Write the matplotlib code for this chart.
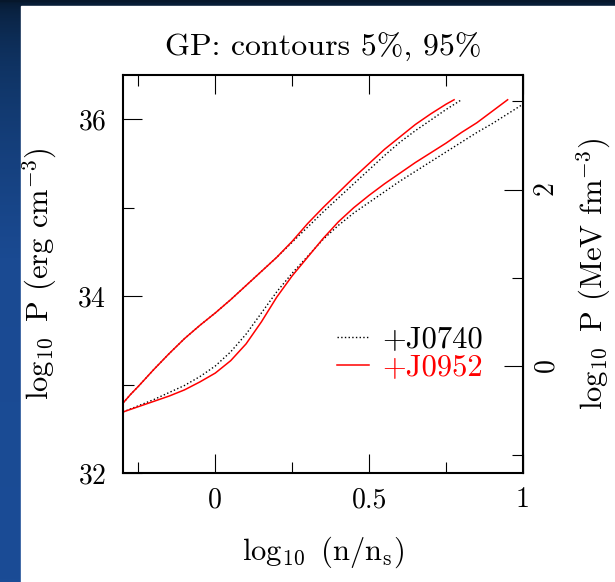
import numpy as np
import matplotlib
matplotlib.use('Agg')
import matplotlib.pyplot as plt
from matplotlib.colors import LinearSegmentedColormap

plt.rcParams['font.family'] = 'cmr10'
plt.rcParams['mathtext.fontset'] = 'cm'
plt.rcParams['axes.formatter.use_mathtext'] = True

# conversion erg cm^-3 -> MeV fm^-3 (log10 of 1.602e33)
LOG_MEV_FM3 = 33.2047

# J0740 contour (black dotted), lower and upper edges
j0740_lo_x = [-0.30, -0.25, -0.20, -0.15, -0.10, -0.05, 0.00, 0.05, 0.10, 0.15, 0.20, 0.25, 0.30,
              0.35, 0.40, 0.45, 0.50, 0.55, 0.60, 0.65, 0.70, 0.75, 0.80, 0.85, 0.90, 0.95, 1.00]
j0740_lo_y = [32.69, 32.76, 32.83, 32.91, 32.99, 33.09, 33.21, 33.37, 33.57, 33.81, 34.05, 34.26, 34.45,
              34.64, 34.80, 34.94, 35.06, 35.18, 35.30, 35.41, 35.52, 35.63, 35.74, 35.85, 35.95, 36.06, 36.17]
j0740_hi_x = [-0.30, -0.275, -0.25, -0.20, -0.15, -0.10, -0.05, 0.00, 0.05, 0.10, 0.15, 0.20, 0.25,
              0.30, 0.35, 0.40, 0.45, 0.50, 0.55, 0.60, 0.65, 0.70, 0.75, 0.80]
j0740_hi_y = [32.79, 32.89, 32.98, 33.17, 33.35, 33.52, 33.67, 33.81, 33.96, 34.12, 34.28, 34.44, 34.61,
              34.78, 34.95, 35.11, 35.27, 35.43, 35.59, 35.74, 35.87, 35.99, 36.11, 36.22]

# J0952 contour (red solid)
j0952_lo_x = [-0.30, -0.25, -0.20, -0.15, -0.10, -0.05, 0.00, 0.05, 0.10, 0.15, 0.20, 0.25, 0.30,
              0.35, 0.40, 0.45, 0.50, 0.55, 0.60, 0.65, 0.70, 0.75, 0.80, 0.85, 0.90, 0.95]
j0952_lo_y = [32.69, 32.75, 32.81, 32.87, 32.94, 33.03, 33.13, 33.27, 33.46, 33.71, 33.99, 34.23, 34.44,
              34.65, 34.84, 35.00, 35.14, 35.27, 35.39, 35.51, 35.62, 35.73, 35.85, 35.96, 36.09, 36.22]
j0952_hi_x = [-0.30, -0.275, -0.25, -0.20, -0.15, -0.10, -0.05, 0.00, 0.05, 0.10, 0.15, 0.20, 0.25,
              0.30, 0.35, 0.40, 0.45, 0.50, 0.55, 0.60, 0.65, 0.70, 0.75, 0.776]
j0952_hi_y = [32.79, 32.89, 32.98, 33.17, 33.35, 33.52, 33.67, 33.81, 33.96, 34.12, 34.28, 34.44, 34.62,
              34.82, 35.00, 35.17, 35.34, 35.50, 35.66, 35.80, 35.94, 36.06, 36.17, 36.22]

W, H = 615, 582
fig = plt.figure(figsize=(W/100, H/100), dpi=100)

# slide background: blue gradient with white panel
bg = fig.add_axes([0, 0, 1, 1], zorder=-10)
cmap = LinearSegmentedColormap.from_list('slide', ['#06172b', '#0f3363', '#1a4a92', '#1b4c96'])
grad = np.linspace(0, 1, 256).reshape(-1, 1) ** 0.5
bg.imshow(grad, aspect='auto', cmap=cmap, extent=[0, 1, 1, 0])
bg.add_patch(plt.Rectangle((21/W, 6/H), 1, 1, color='white'))
bg.set_xlim(0, 1)
bg.set_ylim(1, 0)
bg.axis('off')

ax = fig.add_axes([123/W, 1 - 473/H, 400/W, 398/H])
ax.plot(j0740_lo_x, j0740_lo_y, color='black', ls=':', lw=1.0, label='+J0740')
ax.plot(j0740_hi_x, j0740_hi_y, color='black', ls=':', lw=1.0)
ax.plot(j0952_lo_x, j0952_lo_y, color='red', lw=1.1, label='+J0952')
ax.plot(j0952_hi_x, j0952_hi_y, color='red', lw=1.1)

ax.set_xlim(-0.3, 1.0)
ax.set_ylim(32, 36.5)
ax.set_xticks([0, 0.5, 1])
ax.set_xticklabels(['0', '0.5', '1'])
ax.set_xticks(np.arange(-0.25, 1.0, 0.25), minor=True)
ax.set_yticks([32, 34, 36])
ax.set_yticks([33, 35], minor=True)

for s in ax.spines.values():
    s.set_linewidth(1.5)
ax.tick_params(which='both', direction='in', top=True, right=False, width=0.8,
               labelsize=20, pad=10)
ax.tick_params(axis='y', pad=12)
ax.tick_params(which='major', length=14)
ax.tick_params(which='minor', length=8)

sec = ax.secondary_yaxis('right', functions=(lambda y: y - LOG_MEV_FM3,
                                             lambda y: y + LOG_MEV_FM3))
sec.set_yticks([0, 2])
sec.set_yticks([-1, 1, 3], minor=True)
sec.tick_params(which='both', direction='in', width=0.8, labelsize=20, pad=8)
sec.tick_params(which='major', length=14)
sec.tick_params(which='minor', length=8)
for lab in sec.get_yticklabels():
    lab.set_rotation(90)
    lab.set_va('center')

ax.set_title('GP: contours 5%, 95%', fontsize=23, pad=14)
ax.set_xlabel(r'$\log_{10}$ (n/n$_{\rm s}$)', fontsize=22, labelpad=15)
ax.set_ylabel(r'$\log_{10}$ P (erg cm$^{-3}$)', fontsize=22, labelpad=13)
sec.set_ylabel(r'$\log_{10}$ P (MeV fm$^{-3}$)', fontsize=22, labelpad=10,
               rotation=90)

ax.legend(loc='center left', bbox_to_anchor=(0.535, 0.30), frameon=False,
          fontsize=22, handlelength=1.05, handletextpad=0.42, labelspacing=0.02,
          borderpad=0, borderaxespad=0, labelcolor='linecolor')

fig.savefig('out.png', dpi=100)
